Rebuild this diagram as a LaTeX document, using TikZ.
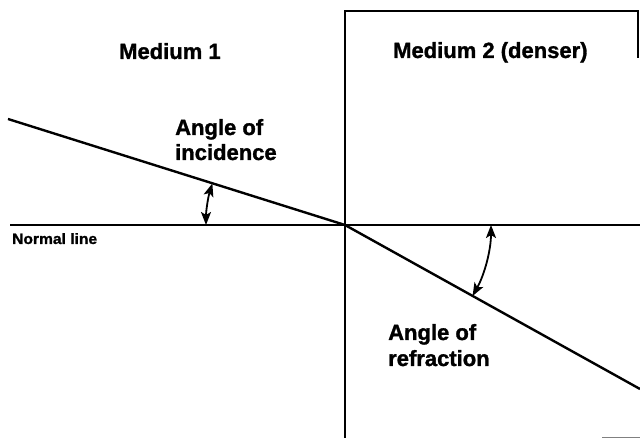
\documentclass[tikz,border=0pt]{standalone}
\usepackage{fontspec}
\setmainfont{Liberation Sans}[BoldFeatures={FakeBold=1.3}]
\usetikzlibrary{arrows.meta}
\begin{document}
\begin{tikzpicture}[x=1pt,y=1pt,
  big/.style={font=\bfseries\fontsize{22}{25}\selectfont, inner sep=0pt, anchor=base west},
  small/.style={font=\bfseries\fontsize{15}{17}\selectfont, inner sep=0pt, anchor=base west, xscale=1.04},
  ray/.style={line width=2.4pt},
  normalln/.style={line width=1.1pt},
  frame/.style={line width=1.8pt},
  anglearrow/.style={line width=1.8pt, {Stealth[length=13pt,width=10pt,inset=3pt]}-{Stealth[length=13pt,width=10pt,inset=3pt]}}]
\useasboundingbox (0,0) rectangle (640,438);
% points
\coordinate (O) at (345,213);
\coordinate (A) at (8,319);
\coordinate (B) at (640,49);
\coordinate (NL) at (10,213);
\coordinate (NR) at (640,213);
\coordinate (RB) at (345,0);
\coordinate (RTL) at (345,427);
\coordinate (RTR) at (638,427);
\coordinate (RR) at (638,380);
% medium 2 frame
\draw[frame] (RB) -- (RTL) -- (RTR) -- (RR);
% normal line
\draw[normalln] (NL) -- (NR);
% rays
\draw[ray] (A) -- (O);
\draw[ray] (O) -- (B);
% angle arrows
\draw[anglearrow] ([shift={(180:139)}]O) arc[start angle=180, end angle=162.6, radius=139];
\draw[anglearrow] ([shift={(0:146)}]O) arc[start angle=0, end angle=-29.1, radius=146];
% bottom edge mark
\draw[gray, line width=0.6pt] (602,1) -- (640,1);
% labels
\node[big] (m1) at (119,379) {Medium 1};
\node[big] (m2) at (393,380) {Medium 2 (denser)};
\node[big] (ai1) at (175,303) {Angle of};
\node[big] (ai2) at (175,278) {incidence};
\node[big] (ar1) at (388,98) {Angle of};
\node[big] (ar2) at (388,72) {refraction};
\node[small] (nl) at (12,194) {Normal line};
\end{tikzpicture}
\end{document}
